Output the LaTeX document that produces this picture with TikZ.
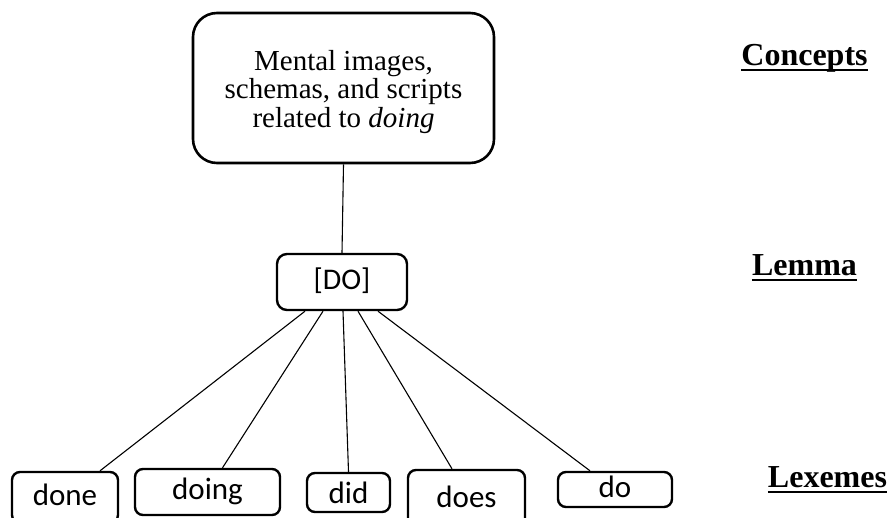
\documentclass[tikz,border=0pt]{standalone}
\usepackage{fontspec}
\setmainfont{Liberation Serif}
\setsansfont{Carlito}
\usetikzlibrary{positioning}

\begin{document}
\begin{tikzpicture}[x=1pt,y=-1pt,
    box/.style={draw, line width=2.4pt, rounded corners=8pt, inner sep=0pt,
      font=\sffamily\fontsize{31}{31}\selectfont, text height=22pt, text depth=7pt},
    level/.style={font=\bfseries\fontsize{32}{32}\selectfont, inner sep=0pt, anchor=base},
    link/.style={line width=1.1pt}]
\useasboundingbox (0,0) rectangle (890,517);
\node[draw, line width=2.6pt, rounded corners=24pt, minimum width=301pt, minimum height=150pt,
  align=center, font=\fontsize{29}{28.5}\selectfont](c) at (343.5,88)
  {\rule{0pt}{28pt}Mental images,\\schemas, and scripts\\related to \textit{doing}};
\node[box, rounded corners=10pt, minimum width=130pt, minimum height=56pt,
  font=\sffamily\fontsize{30}{30}\selectfont](l) at (342,282) {[DO]};
\node[box, minimum width=106pt, minimum height=51pt](done) at (65,497.5) {done};
\node[box, minimum width=145pt, minimum height=46pt](doing) at (207.5,492) {doing};
\node[box, minimum width=83pt, minimum height=39pt, text height=25pt, text depth=4pt](did) at (348.5,492.5) {did};
\node[box, minimum width=117pt, minimum height=59pt](does) at (466.5,499.5) {does};
\node[box, minimum width=114pt, minimum height=35pt](do) at (615,489.5) {do};
\draw[link] (c.south) -- (l.north);
\draw[link] ([xshift=-37pt]l.south) -- ([xshift=35pt]done.north);
\draw[link] ([xshift=-19pt]l.south) -- ([xshift=15pt]doing.north);
\draw[link] ([xshift=1pt]l.south) -- (did.north);
\draw[link] ([xshift=16pt]l.south) -- ([xshift=-14.5pt]does.north);
\draw[link] ([xshift=36pt]l.south) -- ([xshift=-25pt]do.north);
\node[level](cl) at (804.5,65) {Concepts};
\node[level](ll) at (804.5,275) {Lemma};
\node[level](xl) at (827.5,487) {Lexemes};
\foreach \n in {cl,ll,xl}
  \draw[line width=2.6pt] ([yshift=-5pt]\n.base west) -- ([yshift=-5pt]\n.base east);
\end{tikzpicture}
\end{document}
